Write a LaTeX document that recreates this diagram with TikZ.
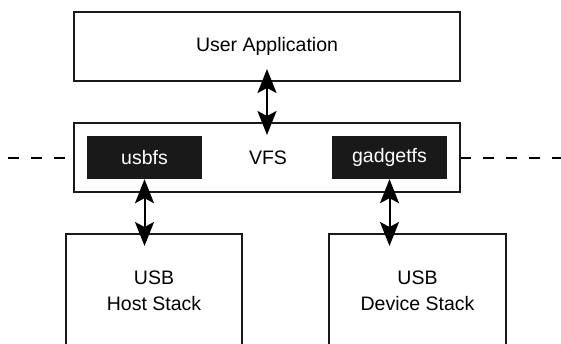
\documentclass[tikz,border=0pt]{standalone}
\usepackage{fontspec}
\setmainfont{Liberation Sans}
\usetikzlibrary{arrows.meta}
\tikzset{
  box/.style={draw=black!90,line width=2pt,minimum width=#1,inner sep=0pt,align=center,font=\fontsize{19.5}{26}\selectfont},
  fsbox/.style={fill=black!90,text=white,minimum width=115pt,minimum height=43pt,inner sep=0pt,font=\fontsize{19.5}{26}\selectfont},
  bigtip/.tip={Stealth[length=24pt,width=19pt,inset=5pt]},
  dbl/.style={line width=2pt,{bigtip}-{bigtip},shorten <=-13pt,shorten >=-13pt},
  dash line/.style={line width=2pt,dash pattern=on 11pt off 12pt}}
\begin{document}
\begin{tikzpicture}[x=1pt,y=1pt]
\useasboundingbox (0,-343) rectangle (561,0);
\node[box=386pt,minimum height=69pt] (ua) at (267,-46.5) {User Application};
\node[box=386pt,minimum height=69pt] (vfs) at (267,-157.5) {};
\node[font=\fontsize{19.5}{26}\selectfont] (vfst) at (268,-157.5) {VFS};
\node[fsbox] (usbfs) at (144.5,-157.5) {usbfs};
\node[fsbox] (gadgetfs) at (389.5,-157.5) {gadgetfs};
\node[box=176pt,minimum height=114pt] (host) at (154,-291) {USB\\Host Stack};
\node[box=177pt,minimum height=114pt] (dev) at (417.5,-291) {USB\\Device Stack};
\coordinate (l0) at (8,-157.5);
\coordinate (r0) at (563,-157.5);
\draw[dash line] (l0) -- (vfs.west);
\draw[dash line] (r0) -- (vfs.east);
\draw[dbl] (ua.south) -- (vfs.north);
\draw[dbl,shorten <=0pt] (usbfs.south) -- (usbfs.south |- host.north);
\draw[dbl,shorten <=0pt] (gadgetfs.south) -- (gadgetfs.south |- dev.north);
\end{tikzpicture}
\end{document}
